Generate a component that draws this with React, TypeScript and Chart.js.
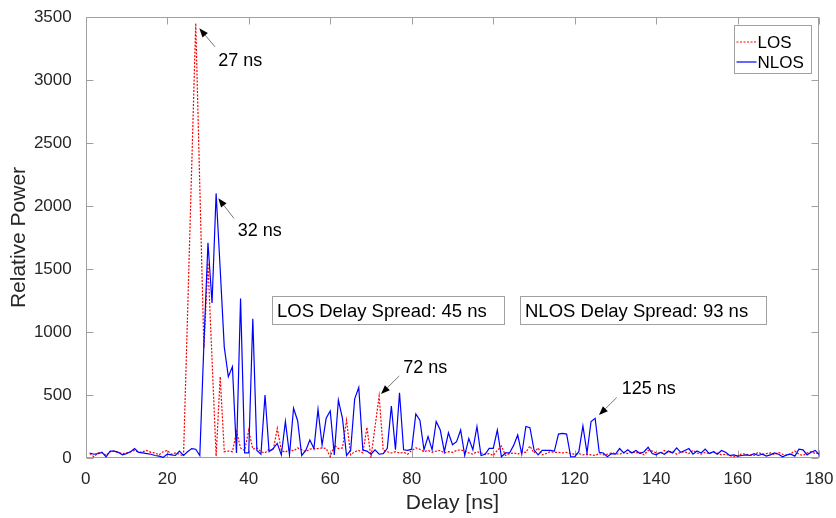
import React, { useEffect, useRef } from 'react';
import { Chart, registerables } from 'chart.js';

Chart.register(...registerables);

// Delay axis (ns)
const delays: number[] = [
  1,2,3,4,5,6,7,8,9,10,11,12,13,14,15,16,17,18,19,20,
  21,22,23,24,25,26,27,28,29,30,31,32,33,34,35,36,37,38,39,40,
  41,42,43,44,45,46,47,48,49,50,51,52,53,54,55,56,57,58,59,60,
  61,62,63,64,65,66,67,68,69,70,71,72,73,74,75,76,77,78,79,80,
  81,82,83,84,85,86,87,88,89,90,91,92,93,94,95,96,97,98,99,100,
  101,102,103,104,105,106,107,108,109,110,111,112,113,114,115,116,117,118,119,120,
  121,122,123,124,125,126,127,128,129,130,131,132,133,134,135,136,137,138,139,140,
  141,142,143,144,145,146,147,148,149,150,151,152,153,154,155,156,157,158,159,160,
  161,162,163,164,165,166,167,168,169,170,171,172,173,174,175,176,177,178,179,180,
];

// LOS relative power
const losPower: number[] = [
  35,10,40,45,20,50,55,45,35,40,50,60,45,50,60,45,40,25,50,60,
  30,40,30,15,1150,2300,3450,2150,873,1547,780,15,645,50,55,50,210,80,60,220,
  70,80,50,40,70,60,235,60,45,70,55,80,65,50,70,75,75,80,75,10,
  100,75,80,300,25,50,60,40,243,5,250,492,60,50,40,50,40,45,30,60,
  80,70,50,60,45,55,60,40,50,45,60,65,55,40,30,50,40,30,35,20,
  60,95,20,35,40,30,50,45,95,40,80,25,35,50,45,45,40,45,35,30,
  35,25,30,25,20,35,25,30,40,35,30,45,35,50,40,45,25,60,55,40,
  35,60,40,55,30,45,50,35,60,40,30,45,35,50,40,25,30,20,10,15,
  35,30,25,20,45,30,35,40,25,45,30,20,35,55,30,20,40,50,35,40,
];

// NLOS relative power
const nlosPower: number[] = [
  40,30,35,45,10,55,55,45,25,35,50,75,45,40,35,30,20,15,5,30,
  25,20,55,20,50,75,70,20,900,1709,1230,2100,1500,880,645,725,40,1265,40,40,
  1105,60,30,500,50,75,116,25,290,25,395,296,20,60,143,75,386,103,315,373,
  25,460,315,20,60,470,560,63,55,30,65,30,35,77,413,65,518,65,60,70,
  350,300,65,170,65,290,222,50,200,105,130,222,20,155,66,250,20,30,77,77,
  222,10,40,40,100,183,30,250,240,65,25,60,60,60,55,190,195,190,10,10,
  50,254,40,290,315,45,40,10,35,30,75,40,65,40,60,35,50,85,35,25,
  45,30,55,40,80,45,60,75,30,55,40,70,35,50,30,60,45,20,25,15,
  20,25,20,35,20,30,15,25,40,30,10,25,30,15,70,65,25,45,60,25,
];

const xTicks: number[] = [0, 20, 40, 60, 80, 100, 120, 140, 160, 180];
const yTicks: number[] = [0, 500, 1000, 1500, 2000, 2500, 3000, 3500];

const seriesNames: string[] = ['LOS', 'NLOS'];

// Arrow annotations (data coordinates)
const annotLabels: string[] = ['27 ns', '32 ns', '72 ns', '125 ns'];
const annotHead: number[][] = [[27.87, 3410], [32.53, 2061], [72.45, 508], [125.93, 341]];
const annotTail: number[][] = [[31.72, 3264], [36.38, 1902], [76.94, 651], [130.27, 479]];
const annotText: number[][] = [[32.53, 3159], [37.29, 1810], [77.92, 725], [131.5, 558]];

// Text boxes (data coordinates)
const boxTexts: string[] = ['LOS Delay Spread: 45 ns', 'NLOS Delay Spread: 93 ns'];
const boxX: number[][] = [[45.63, 102.7], [106.55, 166.9]];
const boxY: number[] = [1063, 1288];

const FONT = '"Liberation Sans", Arial, Helvetica, sans-serif';
const AXIS_COLOR = '#a0a0a0';
const TEXT_COLOR = '#262626';

const overlayPlugin = {
  id: 'overlay',
  beforeDatasetsDraw(chart: any) {
    const { ctx, chartArea: a } = chart;
    const xs = chart.scales.x;
    const ys = chart.scales.y;
    ctx.save();
    ctx.strokeStyle = AXIS_COLOR;
    ctx.lineWidth = 1;
    const L = Math.round(a.left) + 0.5;
    const R = Math.round(a.right) - 0.5;
    const T = Math.round(a.top) + 0.5;
    const B = Math.round(a.bottom) - 0.5;
    ctx.strokeRect(L, T, R - L, B - T);
    const tl = 7;
    ctx.beginPath();
    xTicks.forEach((v) => {
      const px = Math.round(xs.getPixelForValue(v)) + 0.5;
      ctx.moveTo(px, B);
      ctx.lineTo(px, B - tl);
      ctx.moveTo(px, T);
      ctx.lineTo(px, T + tl);
    });
    yTicks.forEach((v) => {
      const py = Math.round(ys.getPixelForValue(v)) + 0.5;
      ctx.moveTo(L, py);
      ctx.lineTo(L + tl, py);
      ctx.moveTo(R, py);
      ctx.lineTo(R - tl, py);
    });
    ctx.stroke();
    ctx.restore();
  },
  afterDatasetsDraw(chart: any) {
    const { ctx, chartArea: a } = chart;
    const xs = chart.scales.x;
    const ys = chart.scales.y;
    ctx.save();

    // text boxes
    ctx.font = `18.5px ${FONT}`;
    ctx.textBaseline = 'middle';
    ctx.textAlign = 'left';
    boxTexts.forEach((t, i) => {
      const x0 = Math.round(xs.getPixelForValue(boxX[i][0])) + 0.5;
      const x1 = Math.round(xs.getPixelForValue(boxX[i][1])) + 0.5;
      const y0 = Math.round(ys.getPixelForValue(boxY[1])) + 0.5;
      const y1 = Math.round(ys.getPixelForValue(boxY[0])) + 0.5;
      ctx.fillStyle = '#ffffff';
      ctx.fillRect(x0, y0, x1 - x0, y1 - y0);
      ctx.strokeStyle = AXIS_COLOR;
      ctx.lineWidth = 1;
      ctx.strokeRect(x0, y0, x1 - x0, y1 - y0);
      ctx.fillStyle = '#000000';
      ctx.fillText(t, x0 + 4.5, (y0 + y1) / 2 + 1);
    });

    // arrows + labels
    annotLabels.forEach((t, i) => {
      const hx = xs.getPixelForValue(annotHead[i][0]);
      const hy = ys.getPixelForValue(annotHead[i][1]);
      const tx = xs.getPixelForValue(annotTail[i][0]);
      const ty = ys.getPixelForValue(annotTail[i][1]);
      const ang = Math.atan2(hy - ty, hx - tx);
      const hl = 9;
      const hw = 3.5;
      const bx = hx - hl * Math.cos(ang);
      const by = hy - hl * Math.sin(ang);
      ctx.strokeStyle = '#555555';
      ctx.lineWidth = 0.8;
      ctx.beginPath();
      ctx.moveTo(tx, ty);
      ctx.lineTo(bx, by);
      ctx.stroke();
      ctx.fillStyle = '#000000';
      ctx.beginPath();
      ctx.moveTo(hx, hy);
      ctx.lineTo(bx + hw * Math.sin(ang), by - hw * Math.cos(ang));
      ctx.lineTo(bx - hw * Math.sin(ang), by + hw * Math.cos(ang));
      ctx.closePath();
      ctx.fill();
      ctx.font = `18px ${FONT}`;
      ctx.textAlign = 'left';
      ctx.textBaseline = 'middle';
      ctx.fillText(t, xs.getPixelForValue(annotText[i][0]), ys.getPixelForValue(annotText[i][1]) + 1);
    });

    // legend
    const lw = 77;
    const lh = 48;
    const lx = Math.round(a.right - 8 - lw) + 0.5;
    const ly = Math.round(a.top + 8) + 0.5;
    ctx.fillStyle = '#ffffff';
    ctx.fillRect(lx, ly, lw, lh);
    ctx.strokeStyle = AXIS_COLOR;
    ctx.lineWidth = 1;
    ctx.strokeRect(lx, ly, lw, lh);
    const rows = [ly + 16.5, ly + 36.5];
    ctx.strokeStyle = '#ff0000';
    ctx.lineWidth = 1.2;
    ctx.setLineDash([2, 1.5]);
    ctx.beginPath();
    ctx.moveTo(lx + 2, rows[0]);
    ctx.lineTo(lx + 22, rows[0]);
    ctx.stroke();
    ctx.setLineDash([]);
    ctx.strokeStyle = '#0000ff';
    ctx.beginPath();
    ctx.moveTo(lx + 2, rows[1]);
    ctx.lineTo(lx + 22, rows[1]);
    ctx.stroke();
    ctx.fillStyle = '#000000';
    ctx.font = `17px ${FONT}`;
    ctx.textAlign = 'left';
    ctx.textBaseline = 'middle';
    ctx.fillText(seriesNames[0], lx + 23, rows[0] + 1);
    ctx.fillText(seriesNames[1], lx + 23, rows[1] + 1);

    ctx.restore();
  },
};

export default function App() {
  const canvasRef = useRef<HTMLCanvasElement | null>(null);

  useEffect(() => {
    document.body.style.margin = '0';
    const canvas = canvasRef.current;
    if (!canvas) return;
    const chart = new Chart(canvas, {
      type: 'line',
      data: {
        datasets: [
          {
            label: seriesNames[1],
            data: delays.map((d, i) => ({ x: d, y: nlosPower[i] })),
            borderColor: '#0000ff',
            borderWidth: 1.2,
            pointRadius: 0,
            fill: false,
            tension: 0,
            order: 0,
          },
          {
            label: seriesNames[0],
            data: delays.map((d, i) => ({ x: d, y: losPower[i] })),
            borderColor: '#ff0000',
            borderWidth: 1.2,
            borderDash: [2, 1.5],
            pointRadius: 0,
            fill: false,
            tension: 0,
            order: 1,
          },
        ],
      },
      options: {
        animation: false,
        responsive: false,
        devicePixelRatio: 1,
        layout: { padding: { left: 0, right: 16.7, top: 17, bottom: 0 } },
        plugins: {
          legend: { display: false },
          tooltip: { enabled: false },
        },
        elements: { point: { radius: 0 } },
        scales: {
          x: {
            type: 'linear',
            min: 0,
            max: 180,
            afterBuildTicks: (s: any) => {
              s.ticks = xTicks.map((v) => ({ value: v }));
            },
            ticks: {
              autoSkip: false,
              maxRotation: 0,
              padding: 11,
              color: TEXT_COLOR,
              font: { family: FONT, size: 17 },
              callback: (v: any) => String(v),
            },
            grid: { display: false, drawTicks: false },
            border: { display: false },
            title: {
              display: true,
              text: 'Delay [ns]',
              color: TEXT_COLOR,
              font: { family: FONT, size: 21 },
              padding: { top: 0, bottom: 2.4 },
            },
            afterFit: (s: any) => {
              s.height = 60;
              s.paddingLeft = 0;
              s.paddingRight = 0;
            },
          },
          y: {
            type: 'linear',
            min: 0,
            max: 3500,
            afterBuildTicks: (s: any) => {
              s.ticks = yTicks.map((v) => ({ value: v }));
            },
            ticks: {
              autoSkip: false,
              padding: 14,
              color: TEXT_COLOR,
              font: { family: FONT, size: 17 },
              callback: (v: any) => String(v),
            },
            grid: { display: false, drawTicks: false },
            border: { display: false },
            title: {
              display: true,
              text: 'Relative Power',
              color: TEXT_COLOR,
              font: { family: FONT, size: 21 },
              padding: { top: 6.9, bottom: 0 },
            },
            afterFit: (s: any) => {
              s.width = 85.7;
              s.paddingTop = 0;
              s.paddingBottom = 0;
            },
          },
        },
      },
      plugins: [overlayPlugin],
    });
    return () => chart.destroy();
  }, []);

  return (
    <div style={{ position: 'absolute', left: 0, top: 0, width: 836, height: 518, background: '#fff' }}>
      <canvas ref={canvasRef} width={836} height={518} style={{ display: 'block' }} />
    </div>
  );
}
